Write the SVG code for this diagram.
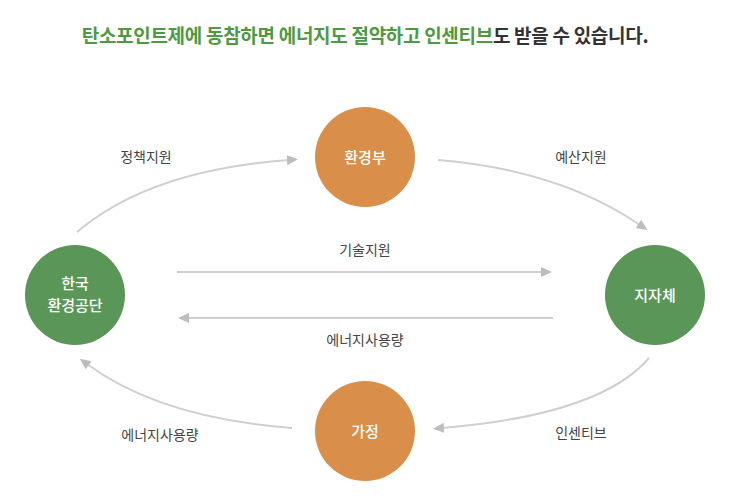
<svg xmlns="http://www.w3.org/2000/svg" width="732" height="496" viewBox="0 0 732 496">
<style>
.t{font-family:"Noto Sans CJK KR","Noto Sans",sans-serif}
.title{font-size:19px;font-weight:bold;letter-spacing:-0.3px}
.lbl{font-size:14px;fill:#444;text-anchor:middle}
.nt{font-size:15px;fill:#fff;text-anchor:middle;font-weight:500}
.con{fill:none;stroke:#cfcfcf;stroke-width:2}
.g{fill:#5b9659}
.o{fill:#d98e4a}
</style>
<defs>
<marker id="ah" markerUnits="userSpaceOnUse" markerWidth="12" markerHeight="12" viewBox="0 0 12 12" refX="2" refY="6" orient="auto">
<path d="M0,1 L11,6 L0,11 Z" fill="#bdbdbd"/>
</marker>
</defs>
<rect width="732" height="496" fill="#fff"/>
<text class="t title" x="365" y="43" text-anchor="middle"><tspan fill="#4e9a43">탄소포인트제에 동참하면 에너지도 절약하고 인센티브</tspan><tspan fill="#333">도 받을 수 있습니다.</tspan></text>
<g id="connectors">
<path class="con" d="M77,232 Q150,170 289,160" marker-end="url(#ah)"/>
<path class="con" d="M438,160 Q560,170 640,225" marker-end="url(#ah)"/>
<path class="con" d="M177,272 L543,272" marker-end="url(#ah)"/>
<path class="con" d="M553,318 L187,318" marker-end="url(#ah)"/>
<path class="con" d="M649,358 Q600,415 442,428" marker-end="url(#ah)"/>
<path class="con" d="M292,428 Q160,418 87,364" marker-end="url(#ah)"/>
<text class="t lbl" x="146" y="162">정책지원</text>
<text class="t lbl" x="581" y="162">예산지원</text>
<text class="t lbl" x="365" y="255">기술지원</text>
<text class="t lbl" x="365" y="345">에너지사용량</text>
<text class="t lbl" x="160" y="440">에너지사용량</text>
<text class="t lbl" x="581" y="438">인센티브</text>
</g>
<g id="node-moe">
<circle class="o" cx="365" cy="157" r="50"/>
<text class="t nt" x="365" y="163">환경부</text>
</g>
<g id="node-keco">
<circle class="g" cx="75" cy="295" r="50"/>
<text class="t nt" x="75" y="289">한국</text>
<text class="t nt" x="75" y="311">환경공단</text>
</g>
<g id="node-local">
<circle class="g" cx="655" cy="295" r="50"/>
<text class="t nt" x="655" y="301">지자체</text>
</g>
<g id="node-home">
<circle class="o" cx="365" cy="431" r="50"/>
<text class="t nt" x="365" y="437">가정</text>
</g>
</svg>
